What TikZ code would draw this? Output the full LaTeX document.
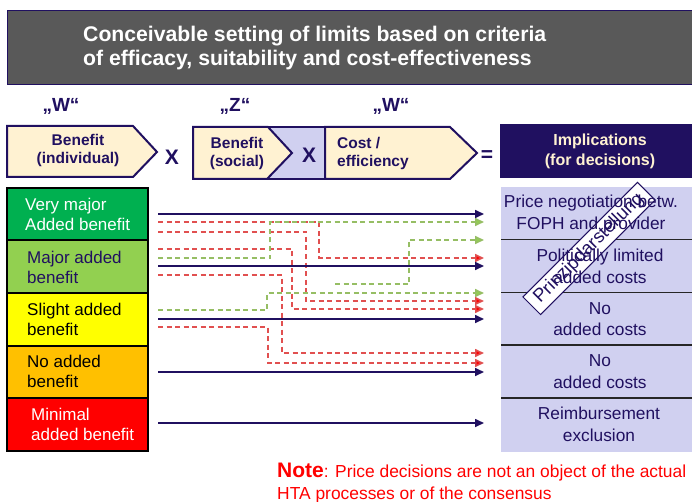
\documentclass[tikz,border=0pt]{standalone}
\usepackage{fontspec}
\setmainfont{Liberation Sans}
\usetikzlibrary{arrows.meta}
\definecolor{navy}{RGB}{32,16,96}
\definecolor{titlegrey}{RGB}{89,89,89}
\definecolor{cream}{RGB}{255,242,210}
\definecolor{lav}{RGB}{208,208,240}
\definecolor{cgreen}{RGB}{0,176,80}
\definecolor{clgreen}{RGB}{146,208,80}
\definecolor{cyellow}{RGB}{255,255,0}
\definecolor{corange}{RGB}{255,192,0}
\definecolor{cred}{RGB}{255,0,0}
\definecolor{dashred}{RGB}{225,80,80}
\definecolor{dashgreen}{RGB}{150,190,100}
\tikzset{
  hdrbox/.style={draw=navy, line width=2pt, line join=miter},
  hdrtext/.style={text=navy, font=\fontsize{15.5}{18}\selectfont\bfseries, align=center, inner sep=0pt},
  cellbox/.style={draw=black, line width=2pt},
  celltext/.style={font=\fontsize{17}{20}\selectfont, align=left, anchor=west, inner sep=0pt},
  impltext/.style={text=navy, font=\fontsize{17.3}{21.5}\selectfont, align=center, inner sep=0pt},
  navyarr/.style={draw=navy, line width=1.6pt, -{Triangle[length=9pt,width=8pt]}},
  redarr/.style={draw=dashred, line width=1.6pt, dash pattern=on 5pt off 3.5pt, -{Triangle[length=9pt,width=8pt,fill=red]}, line join=miter},
  greenarr/.style={draw=dashgreen, line width=1.6pt, dash pattern=on 5pt off 3.5pt, -{Triangle[length=9pt,width=8pt,fill=clgreen]}, line join=miter},
  bigop/.style={text=navy, font=\fontsize{21}{24}\selectfont\bfseries, inner sep=0pt},
  quote/.style={text=navy, font=\fontsize{19}{22}\selectfont\bfseries, inner sep=0pt}
}
\begin{document}
\begin{tikzpicture}[x=1pt,y=-1pt]
\useasboundingbox (0,0) rectangle (692,502);
% title
\fill[titlegrey, draw=navy, line width=0.8pt] (7,10) rectangle (700,84);
\node[text=white, font=\fontsize{21.2}{23.5}\selectfont\bfseries, align=left, anchor=west, inner sep=0pt] (title) at (83,48)
  {Conceivable setting of limits based on criteria\\of efficacy, suitability and cost-effectiveness};
% quotes
\node[quote] (q1) at (61,106) {„W“};
\node[quote] (q2) at (235,106) {„Z“};
\node[quote] (q3) at (391,106) {„W“};
% header boxes
\draw[hdrbox, fill=cream] (7,126) -- (133,126) -- (157,152) -- (133,177) -- (7,177) -- cycle;
\node[hdrtext] (b1) at (78,150) {Benefit\\(individual)};
\node[bigop] (x1) at (172,157) {X};
\fill[lav] (193,127) rectangle (325,179);
\draw[hdrbox, fill=cream] (193,127) -- (268,127) -- (292,153) -- (267,179) -- (193,179) -- cycle;
\draw[hdrbox] (193,127) rectangle (325,179);
\node[hdrtext] (b2) at (237,153) {Benefit\\(social)};
\node[bigop] (x2) at (309,155) {X};
\draw[hdrbox, fill=cream] (325,127) -- (450,127) -- (477,153) -- (450,179) -- (325,179) -- cycle;
\node[hdrtext, align=left, anchor=west] (b3) at (337,153) {Cost /\\efficiency};
\node[bigop] (eq) at (487,156) {=};
\fill[navy] (500,124) rectangle (700,178);
\node[hdrtext, text=cream, font=\fontsize{16}{20}\selectfont\bfseries] (impl) at (600,151) {Implications\\(for decisions)};
% left column
\draw[cellbox, fill=cgreen] (7,188) rectangle (148,240.5);
\draw[cellbox, fill=clgreen] (7,240.5) rectangle (148,293);
\draw[cellbox, fill=cyellow] (7,293) rectangle (148,345.5);
\draw[cellbox, fill=corange] (7,345.5) rectangle (148,398);
\draw[cellbox, fill=cred] (7,398) rectangle (148,451);
\node[celltext, text=white] (c1) at (25,214.5) {Very major\\Added benefit};
\node[celltext, text=navy] (c2) at (27,267) {Major added\\benefit};
\node[celltext, text=black] (c3) at (27,319.5) {Slight added\\benefit};
\node[celltext, text=black] (c4) at (27,371.5) {No added\\benefit};
\node[celltext, text=white] (c5) at (31,424.5) {Minimal\\added benefit};
% right column
\fill[lav] (501,187) rectangle (700,452);
\foreach \yy in {239.5,292.5,345,398} \draw[black!85, line width=1.5pt] (501,\yy) -- (700,\yy);
\node[draw=navy, line width=1pt, fill=white, minimum width=162pt, minimum height=25pt, rotate=45, text=navy, font=\fontsize{18.5}{20}\selectfont, inner sep=0pt] (stamp) at (589,248.5) {Prinzipdarstellung};
\node[impltext] (i1) at (591,214) {Price negotiation betw.\\FOPH and provider};
\node[impltext] (i2) at (600,266.5) {Politically limited\\added costs};
\node[impltext] (i3) at (600,319) {No\\added costs};
\node[impltext] (i4) at (600,371.5) {No\\added costs};
\node[impltext] (i5) at (599,424.5) {Reimbursement\\exclusion};
% arrow coordinates
\coordinate (n1s) at (158,214); \coordinate (n1e) at (484,214);
\coordinate (n2s) at (158,266); \coordinate (n2e) at (484,266);
\coordinate (n3s) at (158,319); \coordinate (n3e) at (484,319);
\coordinate (n4s) at (158,372); \coordinate (n4e) at (484,372);
\coordinate (n5s) at (158,423); \coordinate (n5e) at (484,423);
\coordinate (r1s) at (158,222); \coordinate (r1k) at (319,258); \coordinate (r1e) at (484,258);
\coordinate (r2s) at (158,232); \coordinate (r2k) at (306,301); \coordinate (r2e) at (484,301);
\coordinate (r3s) at (158,249); \coordinate (r3k) at (292,309); \coordinate (r3e) at (484,309);
\coordinate (r4s) at (158,275); \coordinate (r4k) at (282,353); \coordinate (r4e) at (484,353);
\coordinate (r5s) at (158,327); \coordinate (r5k) at (268,363); \coordinate (r5e) at (484,363);
\coordinate (g1s) at (158,258); \coordinate (g1k) at (270,222); \coordinate (g1e) at (484,222);
\coordinate (g2s) at (335,284); \coordinate (g2k) at (409,240); \coordinate (g2e) at (484,240);
\coordinate (g3s) at (158,310); \coordinate (g3k) at (267,293); \coordinate (g3e) at (484,293);
% dashed connectors
\draw[redarr] (r1s) -| (r1k) -- (r1e);
\draw[redarr] (r2s) -| (r2k) -- (r2e);
\draw[redarr] (r3s) -| (r3k) -- (r3e);
\draw[redarr] (r4s) -| (r4k) -- (r4e);
\draw[redarr] (r5s) -| (r5k) -- (r5e);
\draw[greenarr] (g1s) -| (g1k) -- (g1e);
\draw[greenarr] (g2s) -| (g2k) -- (g2e);
\draw[greenarr] (g3s) -| (g3k) -- (g3e);
% solid connectors
\draw[navyarr] (n1s) -- (n1e);
\draw[navyarr] (n2s) -- (n2e);
\draw[navyarr] (n3s) -- (n3e);
\draw[navyarr] (n4s) -- (n4e);
\draw[navyarr] (n5s) -- (n5e);
% note
\node[text=red, anchor=base west, inner sep=0pt, font=\fontsize{17.4}{20}\selectfont] (note1) at (277,477) {{\fontsize{21}{24}\selectfont\bfseries Note}: Price decisions are not an object of the actual};
\node[text=red, anchor=base west, inner sep=0pt, font=\fontsize{17.4}{20}\selectfont] (note2) at (277,499) {HTA processes or of the consensus};
\end{tikzpicture}
\end{document}
